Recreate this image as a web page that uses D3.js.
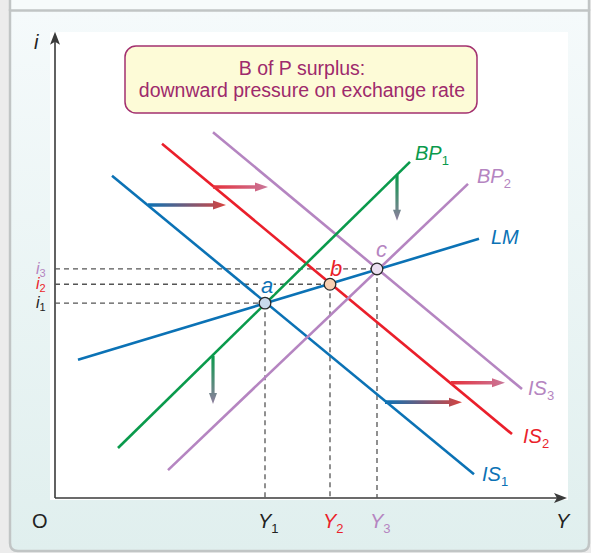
<!DOCTYPE html>
<html><head><meta charset="utf-8">
<script src="https://cdn.jsdelivr.net/npm/d3@7"></script>
<style>html,body{margin:0;padding:0;background:#ececec;}svg{display:block;}</style>
</head><body>
<script>
// ---------- data (model units: Y = output, i = interest rate) ----------
const curveIds    = ["IS1", "IS2", "IS3", "BP1", "BP2", "LM"];
const curveNames  = ["IS", "IS", "IS", "BP", "BP", "LM"];
const curveSubs   = ["1", "2", "3", "1", "2", ""];
const curveStartY = [11.4, 21.4, 31.6, 12.6, 22.6, 4.6];
const curveStartI = [71.6, 78.7, 81.3, 11.1, 6.2, 30.7];
const curveEndY   = [83.8, 91.4, 93.4, 71.0, 82.6, 84.8];
const curveEndI   = [5.3, 14.2, 24.2, 74.7, 69.8, 57.6];

const pointLabels = ["a", "b", "c"];
const pointY      = [42, 55, 64.4];
const pointI      = [43.3, 47.5, 50.9];
const iTickLabels = ["1", "2", "3"];       // subscripts of i1, i2, i3
const yTickLabels = ["1", "2", "3"];       // subscripts of Y1, Y2, Y3

// horizontal shift arrows (IS shifts) and vertical shift arrows (BP shift)
const hArrowFromY = [18.6, 31.6, 66.0, 79.2];
const hArrowToY   = [34.2, 42.6, 81.4, 90.0];
const hArrowI     = [65.1, 69.1, 21.3, 25.6];
const vArrowY     = [68.4, 31.6];
const vArrowFromI = [71.8, 31.6];
const vArrowToI   = [61.6, 20.9];

const boxLines = ["B of P surplus:", "downward pressure on exchange rate"];

// ---------- styles ----------
const curveColors = {IS1:"#0b72b5", IS2:"#ea1f2b", IS3:"#b585c1", BP1:"#0a9a4c", BP2:"#b585c1", LM:"#0b72b5"};
const labelOffsets = {IS1:[8,7], IS2:[11,9], IS3:[6,6], BP1:[5,-2], BP2:[9,-1], LM:[12,5]};
const pointFill  = ["#c9d9eb", "#f8cfb1", "#ebdff0"];
const pointTxt   = ["#0b72b5", "#ea1f2b", "#b585c1"];
const levelColor = ["#222222", "#ea1f2b", "#b585c1"];
const hArrowCols = [["#0b72b5","#d8433f"],["#e6303a","#c9779a"],["#0b72b5","#d8433f"],["#e6303a","#c9779a"]];
const vArrowCols = [["#0a9a4c","#907f9f"],["#0a9a4c","#907f9f"]];

const W = 591, H = 553;
const FONT = "'Liberation Sans', Arial, Helvetica, sans-serif";

const svg = d3.select("body").append("svg").attr("width", W).attr("height", H)
  .style("font-family", FONT);
const defs = svg.append("defs");

// panel gradient
const pg = defs.append("linearGradient").attr("id","panelGrad").attr("x1",0).attr("y1",0).attr("x2",0).attr("y2",1);
pg.append("stop").attr("offset","0%").attr("stop-color","#f5fafb");
pg.append("stop").attr("offset","100%").attr("stop-color","#e0efee");

// frame
svg.append("rect").attr("x",0).attr("y",0).attr("width",W).attr("height",H).attr("fill","#ececec");
svg.append("rect").attr("x",10).attr("y",0).attr("width",579).attr("height",10).attr("fill","#f7fbfb");
svg.append("path").attr("d","M10,10.5 H589 V543 Q589,551 581,551 H18 Q10,551 10,543 Z")
  .attr("fill","url(#panelGrad)").attr("stroke","#c1c5c5").attr("stroke-width",2.5);
svg.append("line").attr("x1",10).attr("x2",10).attr("y1",0).attr("y2",11).attr("stroke","#c1c5c5").attr("stroke-width",2.5);
svg.append("line").attr("x1",589).attr("x2",589).attr("y1",0).attr("y2",11).attr("stroke","#c1c5c5").attr("stroke-width",2.5);
// plot area
svg.append("rect").attr("x",50).attr("y",32).attr("width",518).attr("height",468).attr("fill","#ffffff");

// scales
const x = d3.scaleLinear().domain([0,100]).range([55,555]);
const y = d3.scaleLinear().domain([0,100]).range([498,48]);
const axisYMax = 102.4, axisIMax = 103.6;

// axes
const axisCol = "#3a3a3a";
svg.append("line").attr("x1",x(0)).attr("x2",x(axisYMax)-8).attr("y1",y(0)).attr("y2",y(0))
  .attr("stroke",axisCol).attr("stroke-width",1.6);
svg.append("line").attr("x1",x(0)).attr("x2",x(0)).attr("y1",y(0)).attr("y2",y(axisIMax)+8)
  .attr("stroke",axisCol).attr("stroke-width",1.6);
svg.append("path").attr("fill",axisCol)
  .attr("d",`M${x(axisYMax)},${y(0)} L${x(axisYMax)-13},${y(0)-5} L${x(axisYMax)-10},${y(0)} L${x(axisYMax)-13},${y(0)+5} Z`);
svg.append("path").attr("fill",axisCol)
  .attr("d",`M${x(0)},${y(axisIMax)} L${x(0)-5},${y(axisIMax)+13} L${x(0)},${y(axisIMax)+10} L${x(0)+5},${y(axisIMax)+13} Z`);

// axis labels
svg.append("text").attr("x",34).attr("y",49).attr("font-size",20).attr("font-style","italic").attr("fill","#222").text("i");
svg.append("text").attr("x",32).attr("y",528).attr("font-size",20).attr("fill","#222").text("O");
svg.append("text").attr("x",556).attr("y",528).attr("font-size",20).attr("font-style","italic").attr("fill","#222").text("Y");

// dashed guides
const dashCol = "#555";
pointY.forEach((py,k)=>{
  svg.append("line").attr("x1",x(0)).attr("x2",x(py)).attr("y1",y(pointI[k])).attr("y2",y(pointI[k]))
    .attr("stroke",dashCol).attr("stroke-width",1.3).attr("stroke-dasharray","5,4");
  svg.append("line").attr("x1",x(py)).attr("x2",x(py)).attr("y1",y(pointI[k])).attr("y2",y(0))
    .attr("stroke",dashCol).attr("stroke-width",1.3).attr("stroke-dasharray","5,4");
});

// level labels on axes
pointI.forEach((pi,k)=>{
  const t = svg.append("text").attr("x",36).attr("y",y(pi)+5).attr("font-size",16).attr("font-style","italic").attr("fill",levelColor[k]);
  t.append("tspan").text("i");
  t.append("tspan").attr("font-size",11).attr("font-style","normal").attr("dy",3).text(iTickLabels[k]);
});
pointY.forEach((py,k)=>{
  const t = svg.append("text").attr("x",x(py)-7).attr("y",528).attr("font-size",20).attr("font-style","italic").attr("fill",levelColor[k]);
  t.append("tspan").text("Y");
  t.append("tspan").attr("font-size",13).attr("font-style","normal").attr("dy",5).text(yTickLabels[k]);
});

// curves
const lineGen = d3.line().x(d=>x(d[0])).y(d=>y(d[1]));
curveIds.forEach((id,k)=>{
  svg.append("path").attr("d", lineGen([[curveStartY[k],curveStartI[k]],[curveEndY[k],curveEndI[k]]]))
    .attr("stroke",curveColors[id]).attr("stroke-width",2.6).attr("fill","none");
  const off = labelOffsets[id];
  const t = svg.append("text").attr("x",x(curveEndY[k])+off[0]).attr("y",y(curveEndI[k])+off[1])
    .attr("font-size",20).attr("font-style","italic").attr("fill",curveColors[id]);
  t.append("tspan").text(curveNames[k]);
  if (curveSubs[k]) t.append("tspan").attr("font-size",13).attr("font-style","normal").attr("dy",5).text(curveSubs[k]);
});

// gradient arrows
function arrowPath(len, shaft, headL, headW){
  const s = shaft/2, h = headW/2;
  return `M0,${-s} L${len-headL},${-s} L${len-headL},${-h} L${len},0 L${len-headL},${h} L${len-headL},${s} L0,${s} Z`;
}
hArrowFromY.forEach((fy,k)=>{
  const gid = "hg"+k;
  const g = defs.append("linearGradient").attr("id",gid).attr("x1",0).attr("y1",0).attr("x2",1).attr("y2",0);
  g.append("stop").attr("offset","0%").attr("stop-color",hArrowCols[k][0]);
  g.append("stop").attr("offset","100%").attr("stop-color",hArrowCols[k][1]);
  const x0 = x(fy), x1 = x(hArrowToY[k]), yy = y(hArrowI[k]);
  svg.append("path").attr("d",arrowPath(x1-x0,3.6,13,9)).attr("transform",`translate(${x0},${yy})`)
    .attr("fill",`url(#${gid})`);
});
vArrowY.forEach((vy,k)=>{
  const gid = "vg"+k;
  const g = defs.append("linearGradient").attr("id",gid).attr("x1",0).attr("y1",0).attr("x2",1).attr("y2",0);
  g.append("stop").attr("offset","0%").attr("stop-color",vArrowCols[k][0]);
  g.append("stop").attr("offset","100%").attr("stop-color",vArrowCols[k][1]);
  const xx = x(vy), y0 = y(vArrowFromI[k]), y1 = y(vArrowToI[k]);
  svg.append("path").attr("d",arrowPath(y1-y0,3.2,11,8)).attr("transform",`translate(${xx},${y0}) rotate(90)`)
    .attr("fill",`url(#${gid})`);
});

// equilibrium points
const ptOff = [[-4,-10],[0,-8],[-1,-12]];
pointY.forEach((py,k)=>{
  svg.append("text").attr("x",x(py)+ptOff[k][0]).attr("y",y(pointI[k])+ptOff[k][1])
    .attr("font-size",22).attr("font-style","italic").attr("fill",pointTxt[k])
    .attr("stroke","#fff").attr("stroke-width",3).attr("paint-order","stroke")
    .text(pointLabels[k]);
});
pointY.forEach((py,k)=>{
  svg.append("circle").attr("cx",x(py)).attr("cy",y(pointI[k])).attr("r",5.8)
    .attr("fill",pointFill[k]).attr("stroke","#2b2b2b").attr("stroke-width",1.3);
});

// annotation box
svg.append("rect").attr("x",125).attr("y",46).attr("width",352).attr("height",67).attr("rx",11)
  .attr("fill","#fdfbd7").attr("stroke","#a3306f").attr("stroke-width",1.5);
boxLines.forEach((s,k)=>{
  svg.append("text").attr("x",302).attr("y",75+k*22).attr("text-anchor","middle")
    .attr("font-size",19.5).attr("fill","#9e2a6c").text(s);
});
</script>
</body></html>
